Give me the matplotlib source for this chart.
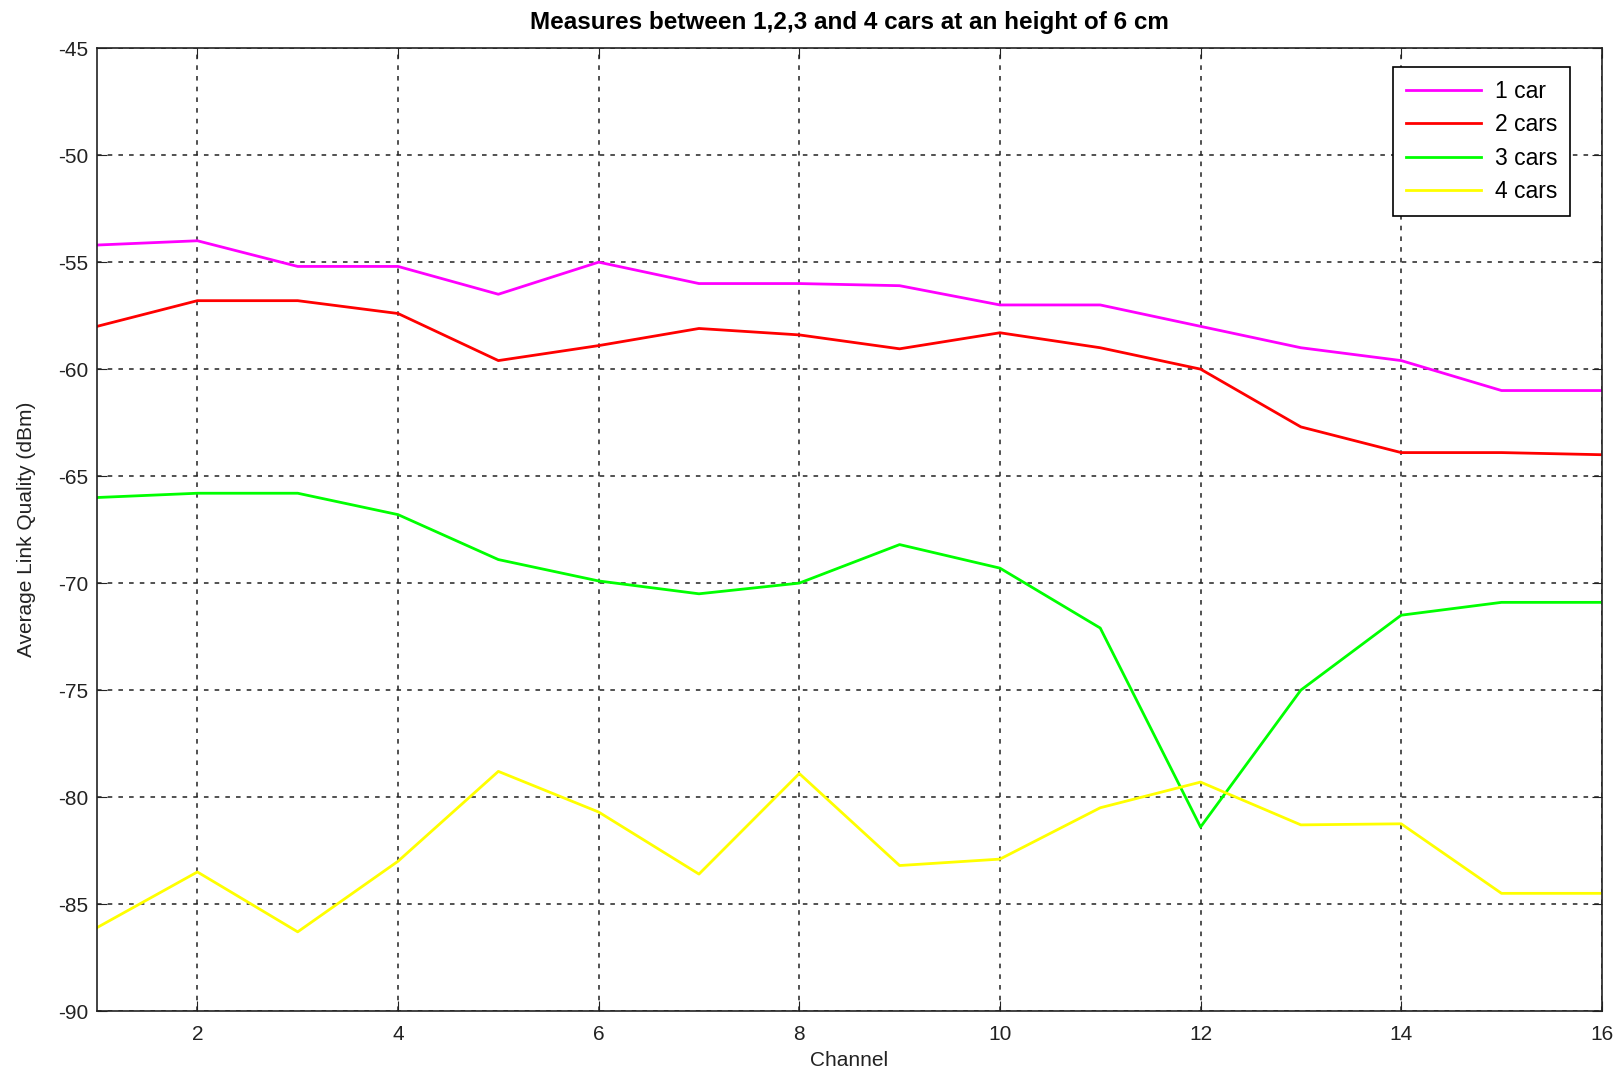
import matplotlib
matplotlib.use('Agg')
import matplotlib.pyplot as plt

plt.rcParams['font.family'] = ['Liberation Sans', 'DejaVu Sans']
plt.rcParams['axes.unicode_minus'] = False

channels = list(range(1, 17))

one_car = [-54.2, -54.0, -55.2, -55.2, -56.5, -55.0, -56.0, -56.0,
           -56.1, -57.0, -57.0, -58.0, -59.0, -59.6, -61.0, -61.0]
two_cars = [-58.0, -56.8, -56.8, -57.4, -59.6, -58.9, -58.1, -58.4,
            -59.05, -58.3, -59.0, -60.0, -62.7, -63.9, -63.9, -64.0]
three_cars = [-66.0, -65.8, -65.8, -66.8, -68.9, -69.9, -70.5, -70.0,
              -68.2, -69.3, -72.1, -81.4, -75.0, -71.5, -70.9, -70.9]
four_cars = [-86.1, -83.5, -86.3, -83.0, -78.8, -80.7, -83.6, -78.9,
             -83.2, -82.9, -80.5, -79.3, -81.3, -81.25, -84.5, -84.5]

labels = ['1 car', '2 cars', '3 cars', '4 cars']
colors = ['#ff00ff', '#ff0000', '#00ff00', '#ffff00']

yticks = list(range(-90, -44, 5))
xticks = list(range(2, 17, 2))


def main():
    fig = plt.figure(figsize=(16.18, 10.71), dpi=100)
    ax = fig.add_axes([0.06, 0.056, 0.93, 0.899])

    for series, label, color in zip([one_car, two_cars, three_cars, four_cars], labels, colors):
        ax.plot(channels, series, color=color, linewidth=2, label=label)

    ax.set_xlim(1, 16)
    ax.set_ylim(-90, -45)
    ax.set_xticks(xticks)
    ax.set_yticks(yticks)
    ax.tick_params(direction='in', top=True, right=True, length=7,
                   labelsize=15, labelcolor='#222222', color='#222222')
    ax.tick_params(axis='x', pad=10)
    ax.tick_params(axis='y', pad=6)
    ax.grid(True, color='#222222', linestyle=(0, (3, 4)), linewidth=1.1)
    for spine in ax.spines.values():
        spine.set_color('#222222')
        spine.set_linewidth(1.2)

    ax.set_title('Measures between 1,2,3 and 4 cars at an height of 6 cm',
                 fontsize=17.5, fontweight='bold', pad=14)
    ax.set_xlabel('Channel', fontsize=15, color='#222222', labelpad=5)
    ax.set_ylabel('Average Link Quality (dBm)', fontsize=15, color='#222222', labelpad=16)

    leg = ax.legend(loc='upper right', bbox_to_anchor=(0.979, 0.98), borderaxespad=0,
                    fontsize=16.5, fancybox=False, framealpha=1, edgecolor='black',
                    handlelength=3.3, labelspacing=0.45, borderpad=0.55, handletextpad=0.6)
    leg.get_frame().set_linewidth(1.2)

    plt.savefig('out.png', dpi=100)
    plt.close()


if __name__ == '__main__':
    main()
